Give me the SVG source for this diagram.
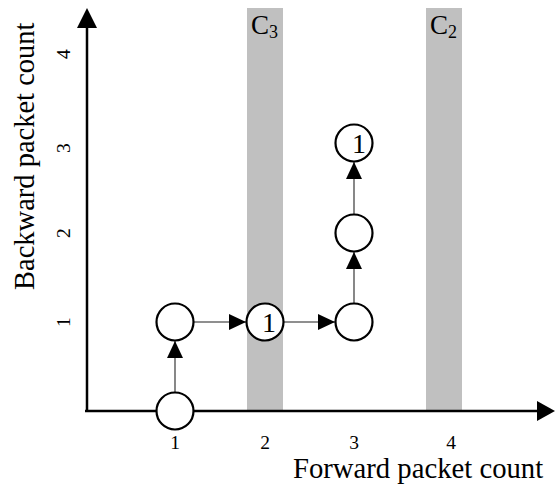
<svg xmlns="http://www.w3.org/2000/svg" width="557" height="486" viewBox="0 0 557 486">
<defs>
<style>
.t{font-family:"Liberation Serif","Times New Roman",serif;fill:#000}
.node{fill:#fff;stroke:#000;stroke-width:2.2}
.band{fill:#c0c0c0}
.axis{stroke:#000;stroke-width:2.5;fill:none}
.edge{stroke:#6a6a6a;stroke-width:1.6;fill:none}
</style>
<marker id="ah" markerUnits="userSpaceOnUse" markerWidth="18" markerHeight="16" refX="17" refY="8" orient="auto">
<path d="M0,0 L17,8 L0,16 Z" fill="#000"/>
</marker>
</defs>
<rect width="557" height="486" fill="#fff"/>
<g id="bands">
<rect class="band" x="247" y="8" width="36" height="403"/>
<rect class="band" x="426" y="8" width="36" height="403"/>
<text class="t" x="251" y="34" font-size="27">C<tspan font-size="18" dy="4">3</tspan></text>
<text class="t" x="430" y="34" font-size="27">C<tspan font-size="18" dy="4">2</tspan></text>
</g>
<g id="axes">
<line class="axis" x1="87" y1="411" x2="87" y2="26"/>
<path d="M77,28 L87,8 L97,28 Z" fill="#000"/>
<line class="axis" x1="85" y1="411" x2="538" y2="411"/>
<path d="M537,401 L555,411 L537,421 Z" fill="#000"/>
<g class="t" font-size="19.5" text-anchor="middle">
<text x="175" y="449">1</text>
<text x="265" y="449">2</text>
<text x="354" y="449">3</text>
<text x="451" y="449">4</text>
<text transform="translate(70,322) rotate(-90)">1</text>
<text transform="translate(70,233) rotate(-90)">2</text>
<text transform="translate(70,148) rotate(-90)">3</text>
<text transform="translate(70,54) rotate(-90)">4</text>
</g>
<text class="t" x="293" y="478" font-size="28.7">Forward packet count</text>
<text class="t" transform="translate(34,290) rotate(-90)" font-size="28.5">Backward packet count</text>
</g>
<g id="connectors">
<line class="edge" x1="175" y1="393" x2="175" y2="341" marker-end="url(#ah)"/>
<line class="edge" x1="193" y1="322" x2="246" y2="322" marker-end="url(#ah)"/>
<line class="edge" x1="283" y1="322" x2="335" y2="322" marker-end="url(#ah)"/>
<line class="edge" x1="354" y1="304" x2="354" y2="252" marker-end="url(#ah)"/>
<line class="edge" x1="354" y1="215" x2="354" y2="162" marker-end="url(#ah)"/>
</g>
<g id="n1"><circle class="node" cx="175" cy="411" r="18.5"/></g>
<g id="n2"><circle class="node" cx="175" cy="322" r="18.5"/></g>
<g id="n3"><circle class="node" cx="265" cy="322" r="18.5"/><text class="t" x="269" y="332" font-size="28" text-anchor="middle">1</text></g>
<g id="n4"><circle class="node" cx="354" cy="322" r="18.5"/></g>
<g id="n5"><circle class="node" cx="354" cy="233" r="18.5"/></g>
<g id="n6"><circle class="node" cx="354" cy="143" r="18.5"/><text class="t" x="359" y="153" font-size="28" text-anchor="middle">1</text></g>
</svg>
